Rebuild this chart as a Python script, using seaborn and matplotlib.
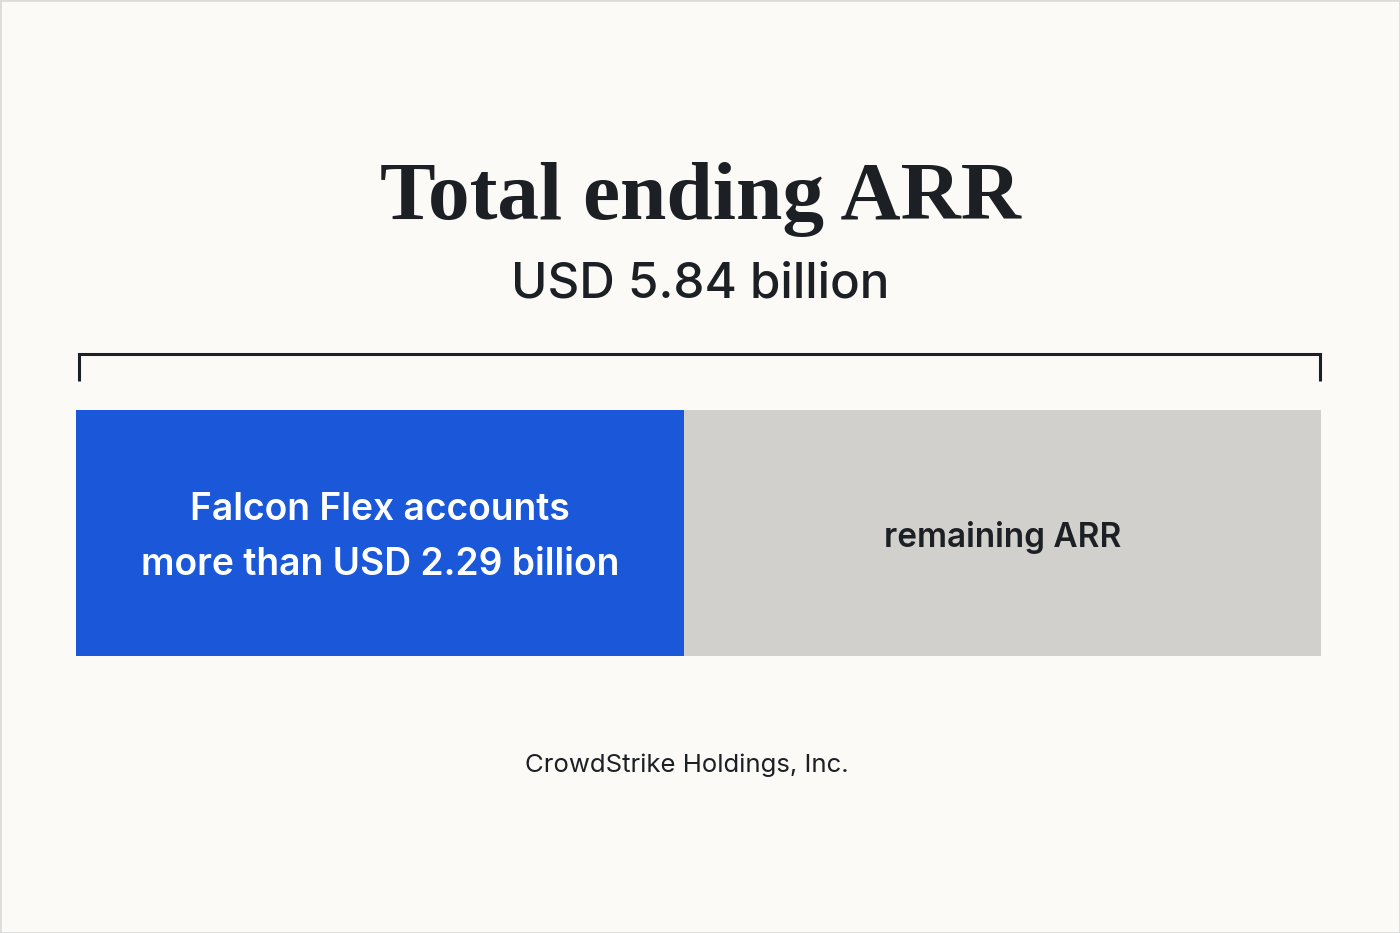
import matplotlib
matplotlib.use("Agg")
import matplotlib.pyplot as plt
import matplotlib.transforms as mtransforms
from matplotlib.patches import Rectangle
import seaborn as sns
import pandas as pd

# ---- data ----
title_text = "Total ending ARR"
subtitle_text = "USD 5.84 billion"
total_arr = 5.84                      # USD billion
segment_names = ["Falcon Flex", "remaining ARR"]
segment_values = [2.85, 2.99]         # bar widths as drawn (USD billion)
segment_labels = [["Falcon Flex accounts", "more than USD 2.29 billion"],
                  ["remaining ARR"]]
footer_text = "CrowdStrike Holdings, Inc."

# ---- style ----
BG = "#fbfaf7"
BLUE = "#1a57d9"
GRAY = "#d1d0cd"
INK = "#1c1f24"

sns.set_theme(style="white")
plt.rcParams["font.family"] = ["Inter", "DejaVu Sans"]

W, H = 1400, 933
fig = plt.figure(figsize=(W / 100, H / 100), dpi=100, facecolor=BG)

def fy(py):
    return 1 - py / H

ax = fig.add_axes([76 / W, fy(656), 1245 / W, 246 / H])
ax.set_facecolor(BG)

cum = pd.Series(segment_values).cumsum()
df = pd.DataFrame({"name": segment_names, "value": segment_values,
                   "cum": cum, "row": ["ARR"] * len(segment_names)})
colors = [BLUE, GRAY]
# stacked: draw from the outermost cumulative bar back to the first
for i in reversed(range(len(df))):
    sns.barplot(data=df.iloc[[i]], x="cum", y="row", orient="h",
                color=colors[i], saturation=1, width=1.0, linewidth=0, ax=ax)

ax.set_xlim(0, cum.iloc[-1])
ax.set_ylim(0.5, -0.5)
ax.set_axis_off()

# segment labels
starts = [0] + list(cum.iloc[:-1])
btr = mtransforms.blended_transform_factory(ax.transData, ax.transAxes)
cx0 = starts[0] + segment_values[0] / 2
ax.text(cx0, (656 - 520) / 246, segment_labels[0][0], transform=btr,
        ha="center", va="baseline", color="white", fontsize=26.8,
        fontweight="semibold")
ax.text(cx0, (656 - 575) / 246, segment_labels[0][1], transform=btr,
        ha="center", va="baseline", color="white", fontsize=26.8,
        fontweight="semibold")
cx1 = starts[1] + segment_values[1] / 2
ax.text(cx1, (656 - 547) / 246, segment_labels[1][0], transform=btr,
        ha="center", va="baseline", color=INK, fontsize=24,
        fontweight="semibold")

# bracket spanning the total
bkt = mtransforms.blended_transform_factory(ax.transData, fig.transFigure)
ax.plot([0.012, 0.012, total_arr - 0.006, total_arr - 0.006],
        [fy(381), fy(354), fy(354), fy(381)],
        transform=bkt, clip_on=False, color=INK, lw=2.2,
        solid_joinstyle="miter", solid_capstyle="butt")

# titles
fig.text(0.5, fy(219), title_text, ha="center", va="baseline",
         fontsize=60, fontweight="bold", color=INK,
         family=["Liberation Serif", "DejaVu Serif"])
fig.text(0.5, fy(298), subtitle_text, ha="center", va="baseline",
         fontsize=35.5, fontweight="medium", color=INK)
fig.text(687 / W, fy(772), footer_text, ha="center", va="baseline",
         fontsize=18.5, color=INK)

# faint frame
fig.add_artist(Rectangle((0, 0), 1, 1, transform=fig.transFigure,
                         fill=False, edgecolor="#dcdcda", lw=2))

fig.savefig("out.png", dpi=100, facecolor=BG)
